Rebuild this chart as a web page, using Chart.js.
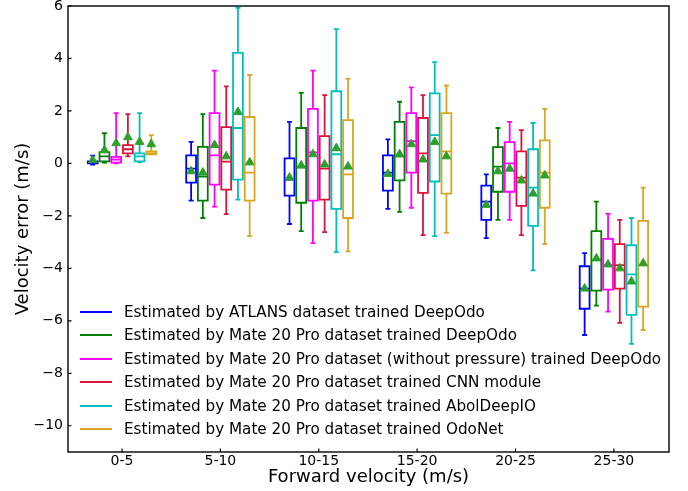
<!DOCTYPE html>
<html><head><meta charset="utf-8">
<script src="https://cdn.jsdelivr.net/npm/chart.js@4.4.1/dist/chart.umd.min.js"></script>
<style>
html,body{margin:0;padding:0;background:#fff;}
#wrap{position:relative;width:688px;height:491px;}
#legend{position:absolute;left:80px;top:300.3px;font-family:"DejaVu Sans",sans-serif;font-size:15.2px;color:#000;}
.item{height:23.4px;display:flex;align-items:center;white-space:nowrap;}
.sw{width:32px;height:0;border-top:2.5px solid;margin-right:12px;}
</style></head>
<body><div id="wrap"><canvas id="c" width="688" height="491"></canvas><div id="legend"></div></div>
<script>
// ---- data ----
const categories = ['0-5', '5-10', '10-15', '15-20', '20-25', '25-30'];
const seriesNames = [
  'Estimated by ATLANS dataset trained DeepOdo',
  'Estimated by Mate 20 Pro dataset trained DeepOdo',
  'Estimated by Mate 20 Pro dataset (without pressure) trained DeepOdo',
  'Estimated by Mate 20 Pro dataset trained CNN module',
  'Estimated by Mate 20 Pro dataset trained AbolDeepIO',
  'Estimated by Mate 20 Pro dataset trained OdoNet'
];
const seriesColors = ['#0000ff', '#008000', '#ff00ff', '#dc143c', '#00bfbf', '#daa520'];
// rows = series, columns = categories
const whiskerLow = [
  [-0.05, -1.42, -2.31, -1.73, -2.85, -6.54],
  [0.03, -2.08, -2.58, -1.85, -2.15, -5.42],
  [0.0, -1.65, -3.04, -1.69, -2.15, -5.65],
  [0.27, -1.93, -2.62, -2.73, -2.73, -6.08],
  [0.05, -1.38, -3.38, -2.77, -4.08, -6.88],
  [0.35, -2.77, -3.35, -2.65, -3.08, -6.35]
];
const quartile1 = [
  [0.0, -0.73, -1.23, -1.04, -2.15, -5.54],
  [0.08, -1.42, -1.5, -0.65, -1.08, -4.85],
  [0.03, -0.81, -1.42, -0.35, -1.08, -4.81],
  [0.38, -1.0, -1.38, -1.12, -1.62, -4.77],
  [0.08, -0.62, -1.73, -0.69, -2.38, -5.77],
  [0.35, -1.42, -2.08, -1.15, -1.69, -5.46]
];
const medians = [
  [0.02, -0.2, -0.62, -0.35, -1.46, -4.77],
  [0.27, -0.5, -0.15, 0.27, -0.12, -3.69],
  [0.15, 0.31, 0.42, 0.85, 0.0, -3.88],
  [0.54, 0.07, -0.2, 0.38, -0.54, -3.88],
  [0.27, 1.35, 0.35, 1.08, -0.92, -4.23],
  [0.38, -0.35, -0.42, 0.46, -0.35, -3.88]
];
const quartile3 = [
  [0.08, 0.31, 0.19, 0.31, -0.85, -3.92],
  [0.43, 0.63, 1.35, 1.58, 0.62, -2.58],
  [0.25, 1.92, 2.08, 1.92, 0.81, -2.88],
  [0.7, 1.38, 1.04, 1.73, 0.46, -3.08],
  [0.38, 4.21, 2.75, 2.67, 0.54, -3.12],
  [0.46, 1.77, 1.65, 1.92, 0.88, -2.19]
];
const whiskerHigh = [
  [0.3, 0.82, 1.58, 0.92, -0.42, -3.42],
  [1.15, 1.88, 2.69, 2.35, 1.35, -1.46],
  [1.92, 3.54, 3.54, 2.9, 1.58, -1.92],
  [1.88, 2.94, 2.6, 2.6, 1.27, -2.15],
  [1.92, 5.93, 5.12, 3.86, 1.54, -2.08],
  [1.08, 3.37, 3.22, 2.97, 2.08, -0.92]
];
const means = [
  [0.12, -0.3, -0.54, -0.4, -1.58, -4.77],
  [0.5, -0.35, -0.08, 0.35, -0.3, -3.62],
  [0.77, 0.7, 0.35, 0.73, -0.2, -3.85],
  [1.0, 0.27, -0.04, 0.15, -0.65, -4.0],
  [0.82, 1.96, 0.58, 0.82, -1.15, -4.5],
  [0.73, 0.04, -0.12, 0.27, -0.46, -3.81]
];
const yTicks = [-10, -8, -6, -4, -2, 0, 2, 4, 6];

// ---- layout constants ----
const BOX_STEP = 0.119;   // spacing between boxes inside a group (x units)
const BOX_W = 0.1;        // box width (x units)
const offsetOf = s => (s - (seriesNames.length - 1) / 2) * BOX_STEP;
const FONT = '"DejaVu Sans", sans-serif';

const boxPlugin = {
  id: 'boxes',
  beforeDatasetsDraw(chart) {
    const {ctx, chartArea: a, scales: {x, y}} = chart;
    ctx.save();
    ctx.beginPath(); ctx.rect(a.left, a.top, a.right - a.left, a.bottom - a.top); ctx.clip();
    ctx.lineWidth = 1.8;
    ctx.lineCap = 'butt';
    seriesNames.forEach((_, s) => {
      ctx.strokeStyle = seriesColors[s];
      categories.forEach((_, c) => {
        const pos = c + 1 + offsetOf(s);
        const xc = x.getPixelForValue(pos);
        const half = x.getPixelForValue(pos + BOX_W / 2) - xc;
        const cap = half / 2;
        const yl = y.getPixelForValue(whiskerLow[s][c]);
        const y1 = y.getPixelForValue(quartile1[s][c]);
        const ym = y.getPixelForValue(medians[s][c]);
        const y3 = y.getPixelForValue(quartile3[s][c]);
        const yh = y.getPixelForValue(whiskerHigh[s][c]);
        ctx.beginPath();
        ctx.rect(xc - half, y3, 2 * half, y1 - y3);
        ctx.moveTo(xc - half, ym); ctx.lineTo(xc + half, ym);
        ctx.moveTo(xc, y3); ctx.lineTo(xc, yh);
        ctx.moveTo(xc, y1); ctx.lineTo(xc, yl);
        ctx.moveTo(xc - cap, yh); ctx.lineTo(xc + cap, yh);
        ctx.moveTo(xc - cap, yl); ctx.lineTo(xc + cap, yl);
        ctx.stroke();
      });
    });
    ctx.restore();
  },
  afterDraw(chart) {
    const {ctx, chartArea: a, scales: {x, y}} = chart;
    ctx.save();
    ctx.strokeStyle = '#000';
    ctx.lineWidth = 1.2;
    ctx.beginPath();
    x.ticks.forEach(t => {
      const px = x.getPixelForValue(t.value);
      ctx.moveTo(px, a.bottom); ctx.lineTo(px, a.bottom - 3.5);
    });
    y.ticks.forEach(t => {
      const py = y.getPixelForValue(t.value);
      ctx.moveTo(a.left, py); ctx.lineTo(a.left + 3.5, py);
    });
    ctx.stroke();
    ctx.lineWidth = 1.4;
    ctx.strokeRect(a.left, a.top, a.right - a.left, a.bottom - a.top);
    ctx.restore();
  }
};

const datasets = seriesNames.map((name, s) => ({
  label: name,
  data: categories.map((_, c) => ({x: c + 1 + offsetOf(s), y: means[s][c]})),
  pointStyle: 'triangle',
  radius: 5,
  borderWidth: 1,
  backgroundColor: '#2ca02c',
  borderColor: '#2ca02c'
}));

new Chart(document.getElementById('c'), {
  type: 'scatter',
  data: {datasets},
  options: {
    responsive: false,
    animation: false,
    events: [],
    layout: {padding: {top: 6, right: 19, left: 0, bottom: 0}},
    plugins: {legend: {display: false}, tooltip: {enabled: false}},
    scales: {
      x: {
        type: 'linear', min: 0.451, max: 6.56,
        afterBuildTicks: sc => { sc.ticks = categories.map((_, i) => ({value: i + 1})); },
        afterFit: sc => { sc.height = 39; sc.paddingLeft = 0; sc.paddingRight = 0; },
        grid: {display: false, drawTicks: false},
        border: {display: false},
        ticks: {
          color: '#000', padding: 1, maxRotation: 0, autoSkip: false,
          font: {family: FONT, size: 14},
          callback: v => categories[Math.round(v) - 1]
        },
        title: {display: true, text: 'Forward velocity (m/s)', color: '#000',
          font: {family: FONT, size: 18}, padding: {top: 0, bottom: 3}}
      },
      y: {
        type: 'linear', min: -11, max: 6,
        afterBuildTicks: sc => { sc.ticks = yTicks.map(v => ({value: v})); },
        afterFit: sc => { sc.width = 68; sc.paddingTop = 0; sc.paddingBottom = 0; },
        grid: {display: false, drawTicks: false},
        border: {display: false},
        ticks: {
          color: '#000', padding: 5,
          font: {family: FONT, size: 14},
          callback: v => (v < 0 ? '\u2212' + Math.abs(v) : String(v))
        },
        title: {display: true, text: 'Velocity error (m/s)', color: '#000',
          font: {family: FONT, size: 18}, padding: {top: 13, bottom: 0}}
      }
    }
  },
  plugins: [boxPlugin]
});

// HTML legend
const leg = document.getElementById('legend');
seriesNames.forEach((name, s) => {
  const row = document.createElement('div');
  row.className = 'item';
  const sw = document.createElement('span');
  sw.className = 'sw';
  sw.style.borderTopColor = seriesColors[s];
  const tx = document.createElement('span');
  tx.textContent = name;
  row.appendChild(sw); row.appendChild(tx);
  leg.appendChild(row);
});
</script>
</body></html>
